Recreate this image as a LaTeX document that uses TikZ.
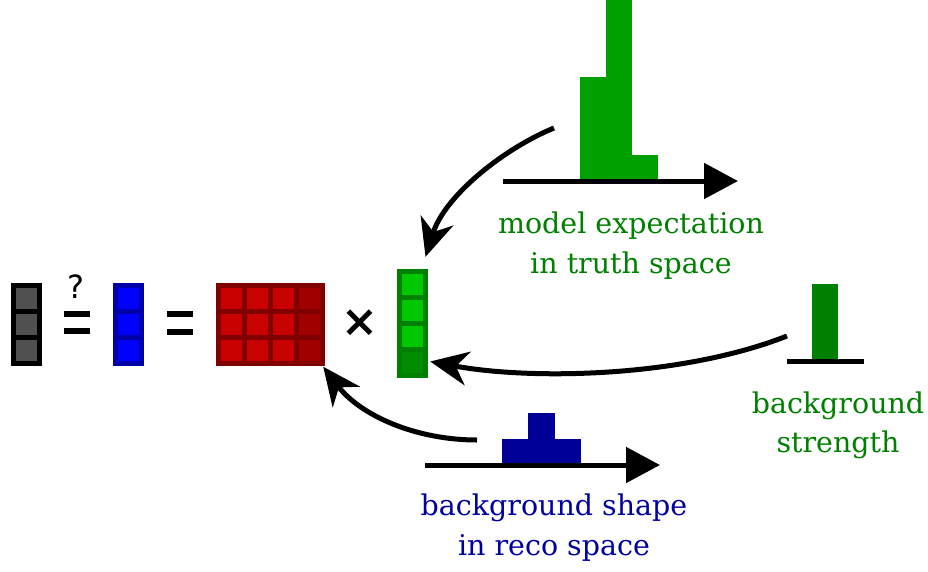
\documentclass[tikz,border=0pt]{standalone}
\usepackage{fontspec}
\setmainfont{DejaVu Serif}
\newfontfamily\symfont{DejaVu Sans}
\newfontfamily\symboldfont{DejaVu Sans Bold}
\usetikzlibrary{arrows.meta}
\definecolor{cellgray}{RGB}{80,80,80}
\definecolor{bluebord}{RGB}{0,0,170}
\definecolor{bluecell}{RGB}{0,0,255}
\definecolor{redbord}{RGB}{128,0,0}
\definecolor{redcell}{RGB}{200,0,0}
\definecolor{redlast}{RGB}{160,0,0}
\definecolor{greenbord}{RGB}{0,128,0}
\definecolor{greencell}{RGB}{0,200,0}
\definecolor{greenlast}{RGB}{0,140,0}
\definecolor{histgreen}{RGB}{0,160,0}
\definecolor{txtgreen}{RGB}{0,128,0}
\definecolor{histblue}{RGB}{0,0,153}
\definecolor{txtblue}{RGB}{0,0,160}
\tikzset{
  cellbox/.style={line width=5pt},
  curvearrow/.style={line width=5pt, -{Stealth[length=38pt,width=34pt,inset=12pt]}},
  axisarrow/.style={line width=5pt, -{Triangle[length=34pt,width=35pt]}},
  lbl/.style={font=\fontsize{28.5}{28.5}\selectfont, anchor=base, inner sep=0pt},
  vecbox/.style={inner sep=0pt, draw=none},
}
\begin{document}
\begin{tikzpicture}[x=1pt,y=-1pt]
\useasboundingbox (0,0) rectangle (928,571);
% gray vector
\foreach \r in {0,1,2}
  \draw[cellbox, draw=black, fill=cellgray] (13,285+26*\r) rectangle ++(26,26);
\node[vecbox, minimum width=31pt, minimum height=83pt] (grayvec) at (26,324) {};
% question equals
\node[font=\symfont\fontsize{32}{32}\selectfont, inner sep=0pt] (qmark) at (76,287) {?};
\fill (64,311) rectangle (90,317);
\fill (64,328) rectangle (90,334);
% blue vector
\foreach \r in {0,1,2}
  \draw[cellbox, draw=bluebord, fill=bluecell] (115.5,285+26*\r) rectangle ++(26,26);
\node[vecbox, minimum width=31pt, minimum height=83pt] (bluevec) at (128.5,324) {};
% equals
\fill (167,311) rectangle (193,317);
\fill (167,329) rectangle (193,335);
% red matrix
\foreach \r in {0,1,2}{
  \foreach \c in {0,1,2}
    \draw[cellbox, draw=redbord, fill=redcell] (218.5+26*\c,285+26*\r) rectangle ++(26,26);
  \draw[cellbox, draw=redbord, fill=redlast] (296.5,285+26*\r) rectangle ++(26,26);
}
\node[vecbox, minimum width=109pt, minimum height=83pt] (redmat) at (270.5,324) {};
% times
\node[font=\symboldfont\fontsize{44}{44}\selectfont, inner sep=0pt] (times) at (360,323.5) {×};
% green vector
\foreach \r in {0,1,2}
  \draw[cellbox, draw=greenbord, fill=greencell] (399.5,271.5+26*\r) rectangle ++(26,26);
\draw[cellbox, draw=greenbord, fill=greenlast] (399.5,349.5) rectangle ++(26,26);
\node[vecbox, minimum width=31pt, minimum height=109pt] (greenvec) at (412.5,323.5) {};

% top histogram (model expectation)
\fill[histgreen] (580,77) rectangle (606,179);
\fill[histgreen] (606,0) rectangle (632,179);
\fill[histgreen] (632,155) rectangle (658,179);
\coordinate (topaxs) at (503,181);
\coordinate (topaxe) at (738,181);
\draw[axisarrow] (topaxs) -- (topaxe);
\node[lbl, text=txtgreen] (modl1) at (631,233) {model expectation};
\node[lbl, text=txtgreen] (modl2) at (631,273) {in truth space};

% background strength
\fill[greenbord] (812,284) rectangle (838,359);
\draw[line width=5pt] (787,361) -- (864,361);
\node[lbl, text=txtgreen] (bgs1) at (838,413) {background};
\node[lbl, text=txtgreen] (bgs2) at (838,452) {strength};

% bottom histogram (background shape)
\fill[histblue] (502,439) rectangle (528,463);
\fill[histblue] (528,413) rectangle (555,463);
\fill[histblue] (555,439) rectangle (581,463);
\coordinate (botaxs) at (425,465);
\coordinate (botaxe) at (660,465);
\draw[axisarrow] (botaxs) -- (botaxe);
\node[lbl, text=txtblue] (bsh1) at (554,515) {background shape};
\node[lbl, text=txtblue] (bsh2) at (554,555) {in reco space};

% curved arrows
\coordinate (srcA) at (554,128);
\coordinate (srcB) at (787,336);
\coordinate (srcC) at (477,440);
\draw[curvearrow] (srcA) .. controls (505,148) and (445,195) .. ([shift={(13,-12)}]greenvec.north);
\draw[curvearrow] (srcB) .. controls (680,378) and (530,380) .. ([shift={(2,38)}]greenvec.east);
\draw[curvearrow] (srcC) .. controls (415,440) and (360,415) .. ([shift={(-2,1)}]redmat.south east);
\end{tikzpicture}
\end{document}
